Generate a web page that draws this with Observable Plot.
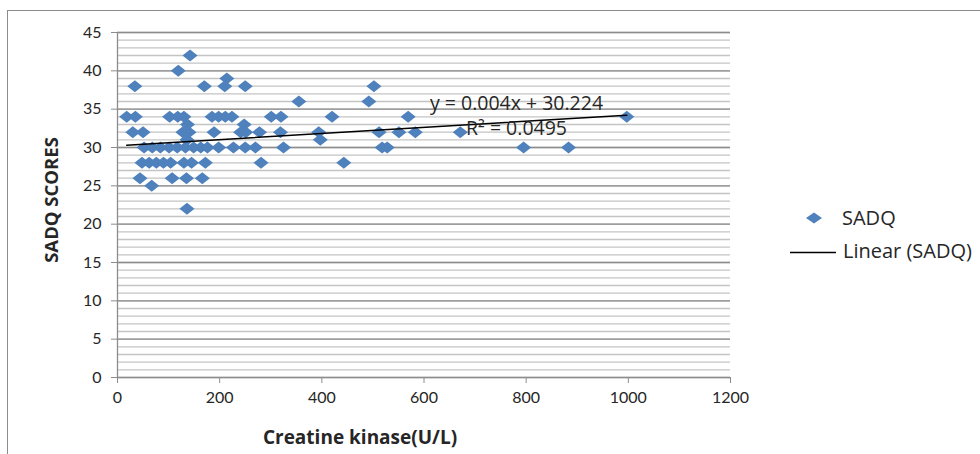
<!DOCTYPE html>
<html>
<head>
<meta charset="utf-8">
<script src="https://cdn.jsdelivr.net/npm/d3@7"></script>
<script src="https://cdn.jsdelivr.net/npm/@observablehq/plot@0.6"></script>
<style>
  body { margin: 0; background: #fff; }
  #wrap { position: relative; width: 980px; height: 454px; overflow: hidden; font-family: "Open Sans", Lato, sans-serif; color: #262626; }
  #frame { position: absolute; left: 7px; top: 10px; width: 1100px; height: 600px; border-left: 1px solid #8c8c8c; border-top: 1px solid #8c8c8c; }
  #chart { position: absolute; left: 0; top: 0; }
  .leg { position: absolute; font-size: 20px; line-height: 1; white-space: nowrap; }
  .ytitle { position: absolute; left: 50px; top: 200px; transform: translate(-50%, -50%) rotate(-90deg); font-weight: bold; font-size: 18.5px; white-space: nowrap; }
  .xtitle { position: absolute; left: 360px; top: 437px; transform: translate(-50%, -50%); font-weight: bold; font-size: 19px; white-space: nowrap; }
</style>
</head>
<body>
<div id="wrap">
  <div id="frame"></div>
  <div id="chart"></div>
  <div class="ytitle">SADQ SCORES</div>
  <div class="xtitle">Creatine kinase(U/L)</div>
  <svg class="leg" style="left:806px;top:212px" width="16" height="12"><polygon points="0,6 8,0.5 16,6 8,11.5" fill="#4F81BD"/></svg>
  <div class="leg" style="left:842px;top:208px">SADQ</div>
  <svg class="leg" style="left:790px;top:251px" width="46" height="3"><line x1="0" y1="1.5" x2="46" y2="1.5" stroke="#000" stroke-width="1.5"/></svg>
  <div class="leg" style="left:843px;top:241px">Linear (SADQ)</div>
</div>
<script>
// Data
const creatineKinase = [
  142,
  119,
  214,
  34, 170, 210, 250, 502,
  355, 492,
  18, 35, 102, 118, 130, 185, 198, 211, 224, 301, 320, 420, 569, 997,
  137, 248,
  30, 50, 128, 140, 189, 241, 251, 278, 319, 394, 512, 551, 583, 671,
  136, 397,
  52, 68, 84, 101, 117, 133, 149, 163, 176, 198, 227, 250, 270, 325, 518, 528, 795, 883,
  48, 62, 76, 90, 104, 130, 145, 172, 281, 443,
  44, 107, 135, 166,
  67,
  136
];
const sadqScores = [
  42,
  40,
  39,
  38, 38, 38, 38, 38,
  36, 36,
  34, 34, 34, 34, 34, 34, 34, 34, 34, 34, 34, 34, 34, 34,
  33, 33,
  32, 32, 32, 32, 32, 32, 32, 32, 32, 32, 32, 32, 32, 32,
  31, 31,
  30, 30, 30, 30, 30, 30, 30, 30, 30, 30, 30, 30, 30, 30, 30, 30, 30, 30,
  28, 28, 28, 28, 28, 28, 28, 28, 28, 28,
  26, 26, 26, 26,
  25,
  22
];
const trendSlope = 0.004;
const trendIntercept = 30.224;
const equationLines = ["y = 0.004x + 30.224", "R² = 0.0495"];
const xTicks = [0, 200, 400, 600, 800, 1000, 1200];
const yTicks = [0, 5, 10, 15, 20, 25, 30, 35, 40, 45];
const yMinorTicks = d3.range(0, 46, 1);

const points = creatineKinase.map((x, i) => ({x, y: sadqScores[i]}));
const [xMin, xMax] = d3.extent(creatineKinase);
const trend = [xMin, xMax].map(x => ({x, y: trendIntercept + trendSlope * x}));

// Excel-style diamond (slightly wider than tall)
const diamond = {
  draw(ctx, size) {
    const s = Math.sqrt(size);
    const w = s * 0.85, h = s * 0.68;
    ctx.moveTo(-w, 0); ctx.lineTo(0, -h); ctx.lineTo(w, 0); ctx.lineTo(0, h); ctx.closePath();
  }
};

const chart = Plot.plot({
  width: 980,
  height: 454,
  marginLeft: 117,
  marginRight: 250,
  marginTop: 32,
  marginBottom: 77,
  style: { fontFamily: "Lato, 'Liberation Sans', sans-serif", fontSize: "16px", color: "#262626", background: "transparent" },
  x: { domain: [0, 1200] },
  y: { domain: [0, 45] },
  marks: [
    Plot.ruleY(yMinorTicks, { stroke: "#c4c4c4", strokeWidth: 1.3 }),
    Plot.ruleY(yTicks, { stroke: "#8c8c8c", strokeWidth: 1.3 }),
    Plot.ruleX([0], { stroke: "#8c8c8c", strokeWidth: 1.3 }),
    Plot.axisX({ ticks: xTicks, tickSize: 6, tickPadding: 8, stroke: "#8c8c8c", fill: "#262626", label: null, tickFormat: d => String(d) }),
    Plot.axisY({ ticks: yTicks, tickSize: 6, tickPadding: 10, stroke: "#8c8c8c", fill: "#262626", label: null, tickFormat: d => String(d) }),
    Plot.dot(points, { x: "x", y: "y", symbol: diamond, r: 5, fill: "#4F81BD", stroke: "none" }),
    Plot.line(trend, { x: "x", y: "y", stroke: "#000", strokeWidth: 1.5 }),
    Plot.text([equationLines[0]], { text: d => d, frameAnchor: "top-left", dx: 399, dy: 71, textAnchor: "middle", lineAnchor: "middle", fontSize: 19.5, fontFamily: "'Open Sans', sans-serif", fill: "#262626" }),
    Plot.text([equationLines[1]], { text: d => d, frameAnchor: "top-left", dx: 399, dy: 96, textAnchor: "middle", lineAnchor: "middle", fontSize: 19.5, fontFamily: "'Open Sans', sans-serif", fill: "#262626" })
  ]
});
document.getElementById("chart").appendChild(chart);
</script>
</body>
</html>
